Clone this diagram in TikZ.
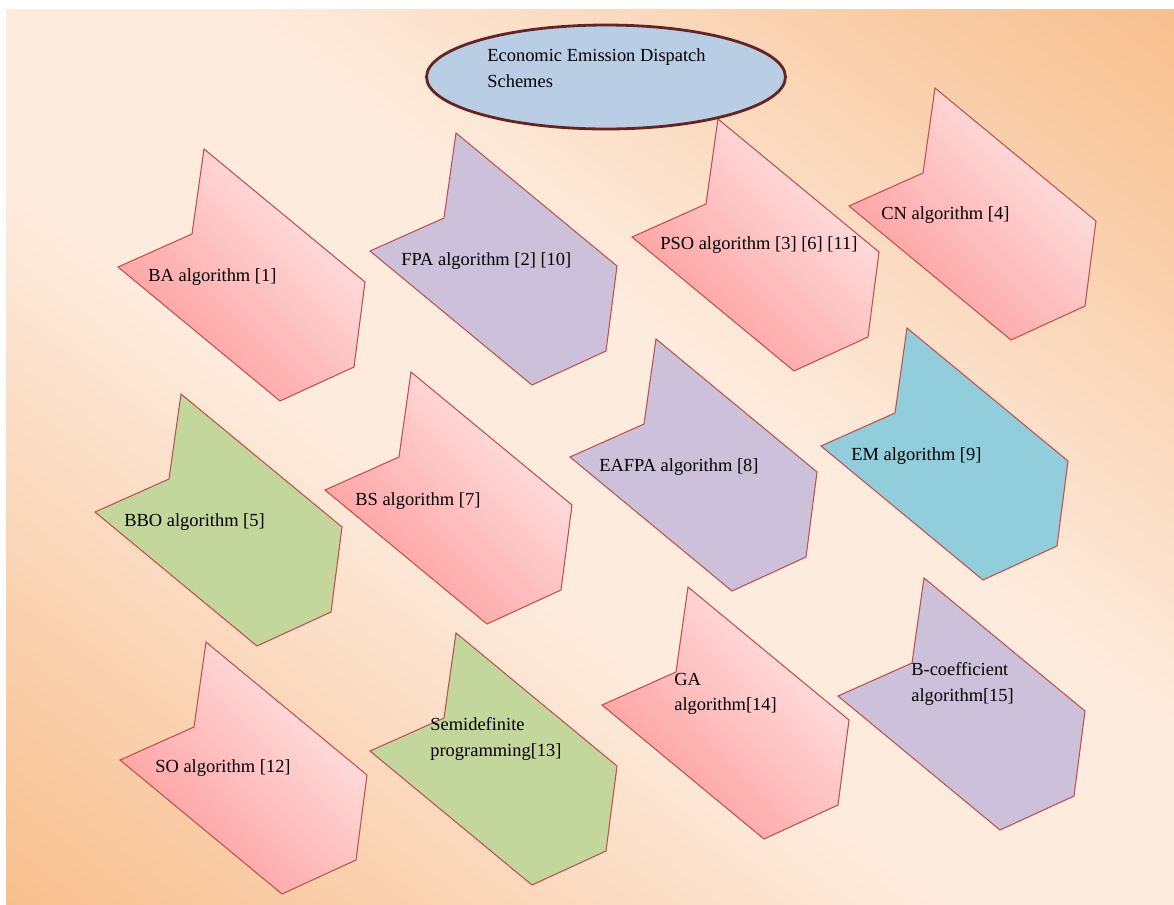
\documentclass[tikz,border=0pt]{standalone}
\usepackage{fontspec}
\setmainfont{Liberation Serif}
\usepackage{tikz}
\usetikzlibrary{shapes.geometric, positioning}

\definecolor{bgorange}{HTML}{F7BC88}
\definecolor{bgmid}{HTML}{FAD3B3}
\definecolor{bglight}{HTML}{FDEBDD}
\definecolor{pinkdark}{HTML}{FF9A9A}
\definecolor{pinklight}{HTML}{FFE6E6}
\definecolor{lavender}{HTML}{CCC0DA}
\definecolor{olivegreen}{HTML}{C3D69B}
\definecolor{aqua}{HTML}{92CDDC}
\definecolor{edgered}{HTML}{C0504D}
\definecolor{ellblue}{HTML}{B9CDE5}
\definecolor{ellrim}{HTML}{632523}

\pgfdeclarehorizontalshading{pageshade}{100bp}{color(0bp)=(bgorange); color(13bp)=(bgorange); color(28bp)=(bgmid); color(43bp)=(bglight); color(57bp)=(bglight); color(72bp)=(bgmid); color(87bp)=(bgorange); color(100bp)=(bgorange)}

% notched arrow block, #1 = top corner, #2 = style
\newcommand{\algshape}[2]{%
  \draw[#2] (#1) -- ++(161,133) -- ++(-11,85) -- ++(-74,34) -- ++(-162,-134) -- ++(74,-33) -- cycle;}

\begin{document}
\begin{tikzpicture}[x=0.02cm, y=-0.02cm, font=\fontsize{10.5}{14.5}\selectfont,
    block/.style={draw=edgered, line width=0.6pt, line join=miter},
    pinkblock/.style={block, left color=pinkdark, right color=pinklight, shading angle=135},
    lavblock/.style={block, fill=lavender},
    greenblock/.style={block, fill=olivegreen},
    aquablock/.style={block, fill=aqua},
    algtext/.style={anchor=west, inner sep=0pt, align=left}]
    \useasboundingbox (0,0) rectangle (1174,904);
    \fill[white] (0,0) rectangle (1174,904);

    % Background
    \shade[shading=pageshade, shading angle=52.5] (6,9) rectangle (1174,904);

    % Corners of the blocks
    \coordinate (baT) at (204,149);
    \coordinate (fpaT) at (456,133);
    \coordinate (psoT) at (718,119);
    \coordinate (cnT) at (935,88);
    \coordinate (bboT) at (181,394);
    \coordinate (bsT) at (411,372);
    \coordinate (eafpaT) at (656,339);
    \coordinate (emT) at (907,328);
    \coordinate (soT) at (206,642);
    \coordinate (sdpT) at (456,633);
    \coordinate (gaT) at (688,587);
    \coordinate (bcT) at (924,578);

    % Row 1
    \algshape{baT}{pinkblock}
    \algshape{fpaT}{lavblock}
    \algshape{psoT}{pinkblock}
    \algshape{cnT}{pinkblock}
    \node[algtext] (ba) at (148,277) {BA algorithm [1]};
    \node[algtext] (fpa) at (401,261) {FPA algorithm [2] [10]};
    \node[algtext] (pso) at (660,245) {PSO algorithm [3] [6] [11]};
    \node[algtext] (cn) at (881,215) {CN algorithm [4]};

    % Row 2
    \algshape{bboT}{greenblock}
    \algshape{bsT}{pinkblock}
    \algshape{eafpaT}{lavblock}
    \algshape{emT}{aquablock}
    \node[algtext] (bbo) at (124,522) {BBO algorithm [5]};
    \node[algtext] (bs) at (355,501) {BS algorithm [7]};
    \node[algtext] (eafpa) at (599,467) {EAFPA algorithm [8]};
    \node[algtext] (em) at (851,456) {EM algorithm [9]};

    % Row 3
    \algshape{soT}{pinkblock}
    \algshape{sdpT}{greenblock}
    \algshape{gaT}{pinkblock}
    \algshape{bcT}{lavblock}
    \node[algtext] (so) at (155,768) {SO algorithm [12]};
    \node[algtext] (sdp) at (430,739) {Semidefinite\\programming[13]};
    \node[algtext] (ga) at (674,694) {GA\\algorithm[14]};
    \node[algtext] (bc) at (911,684) {B-coefficient\\algorithm[15]};

    % Title ellipse
    \node[ellipse, draw=ellrim, line width=1.6pt, fill=ellblue, minimum width=7.18cm, minimum height=2.08cm, inner sep=0pt] (dispatch) at (606,77) {};
    \node[algtext] (dispatchtext) at (487,68) {Economic Emission Dispatch\\Schemes};
\end{tikzpicture}
\end{document}
